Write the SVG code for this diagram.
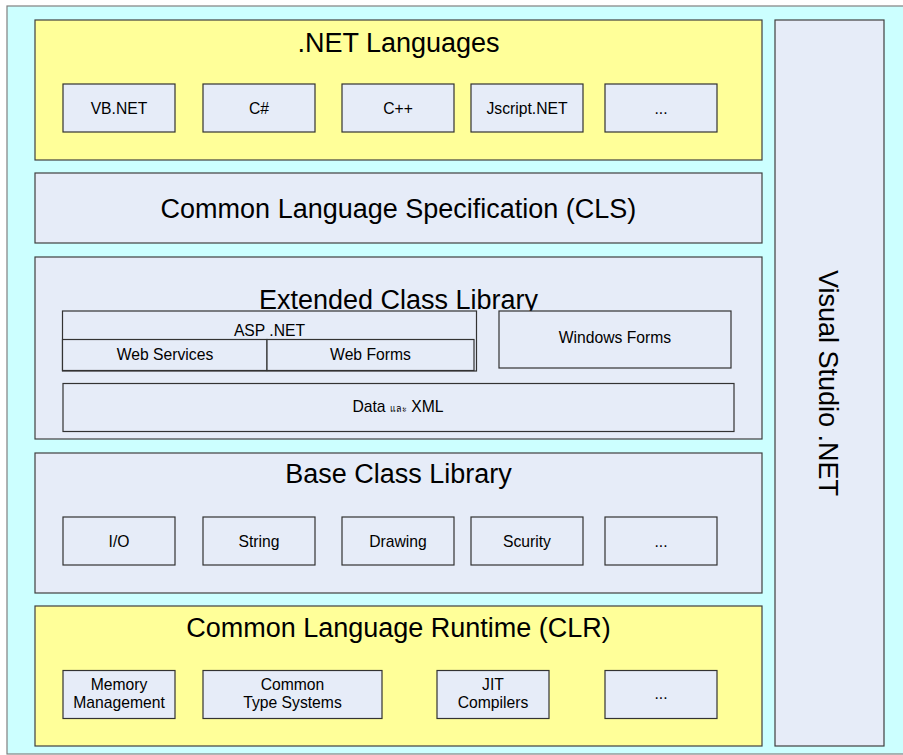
<svg xmlns="http://www.w3.org/2000/svg" width="903" height="755" viewBox="0 0 903 755">
<style>
.panel{fill:#E6ECF8;stroke:#404040;stroke-width:1.2}
.yel{fill:#FFFF99;stroke:#404040;stroke-width:1.2}
.box{fill:#E6ECF8;stroke:#333333;stroke-width:1.2}
.title{font-family:"Liberation Sans",Arial,sans-serif;font-size:27px;fill:#000;text-anchor:middle}
.lbl{font-family:"Liberation Sans",Arial,sans-serif;font-size:15.7px;fill:#000;text-anchor:middle}
</style>
<rect x="7" y="6" width="900" height="748" fill="#CCFFFF" stroke="#808080" stroke-width="1.2"/>
<g id="net-languages">
<rect class="yel" x="35" y="20" width="727" height="140"/>
<text class="title" x="398.5" y="52">.NET Languages</text>
<rect class="box" x="63" y="84" width="112" height="48"/><text class="lbl" x="119" y="113.5">VB.NET</text>
<rect class="box" x="203" y="84" width="112" height="48"/><text class="lbl" x="259" y="113.5">C#</text>
<rect class="box" x="342" y="84" width="112" height="48"/><text class="lbl" x="398" y="113.5">C++</text>
<rect class="box" x="471" y="84" width="112" height="48"/><text class="lbl" x="527" y="113.5">Jscript.NET</text>
<rect class="box" x="605" y="84" width="112" height="48"/><text class="lbl" x="661" y="113.5">...</text>
</g>
<g id="cls">
<rect class="panel" x="35" y="173" width="727" height="70"/>
<text class="title" x="398.5" y="218">Common Language Specification (CLS)</text>
</g>
<g id="extended">
<rect class="panel" x="35" y="257" width="727" height="182"/>
<text class="title" x="398.5" y="308.5">Extended Class Library</text>
<rect class="box" x="62.5" y="311" width="414" height="60" fill="none"/>
<text class="lbl" x="269.5" y="336">ASP .NET</text>
<rect class="box" x="62.5" y="339.5" width="204.5" height="31"/>
<text class="lbl" x="165" y="360">Web Services</text>
<rect class="box" x="267" y="339.5" width="207" height="31"/>
<text class="lbl" x="370.5" y="360">Web Forms</text>
<rect class="box" x="499" y="311" width="232" height="57"/>
<text class="lbl" x="615" y="343">Windows Forms</text>
<rect class="box" x="63" y="383.5" width="671" height="48"/>
<text class="lbl" x="398" y="411.5">Data <tspan font-size="9">และ</tspan> XML</text>
</g>
<g id="base">
<rect class="panel" x="35" y="453" width="727" height="140"/>
<text class="title" x="398.5" y="483">Base Class Library</text>
<rect class="box" x="63" y="517" width="112" height="48"/><text class="lbl" x="119" y="546.5">I/O</text>
<rect class="box" x="203" y="517" width="112" height="48"/><text class="lbl" x="259" y="546.5">String</text>
<rect class="box" x="342" y="517" width="112" height="48"/><text class="lbl" x="398" y="546.5">Drawing</text>
<rect class="box" x="471" y="517" width="112" height="48"/><text class="lbl" x="527" y="546.5">Scurity</text>
<rect class="box" x="605" y="517" width="112" height="48"/><text class="lbl" x="661" y="546.5">...</text>
</g>
<g id="clr">
<rect class="yel" x="35" y="606" width="727" height="140"/>
<text class="title" x="398.5" y="637">Common Language Runtime (CLR)</text>
<rect class="box" x="63" y="670.5" width="112" height="48"/><text class="lbl" x="119" y="690">Memory</text><text class="lbl" x="119" y="708.3">Management</text>
<rect class="box" x="203" y="670.5" width="179" height="48"/><text class="lbl" x="292.5" y="690">Common</text><text class="lbl" x="292.5" y="708.3">Type Systems</text>
<rect class="box" x="437" y="670.5" width="112" height="48"/><text class="lbl" x="493" y="690">JIT</text><text class="lbl" x="493" y="708.3">Compilers</text>
<rect class="box" x="605" y="670.5" width="112" height="48"/><text class="lbl" x="661" y="699">...</text>
</g>
<g id="visual-studio">
<rect class="panel" x="775" y="20" width="109" height="726"/>
<text class="title" transform="translate(818.5 383) rotate(90)" x="0" y="0">Visual Studio .NET</text>
</g>
<g id="connectors"></g>
</svg>
